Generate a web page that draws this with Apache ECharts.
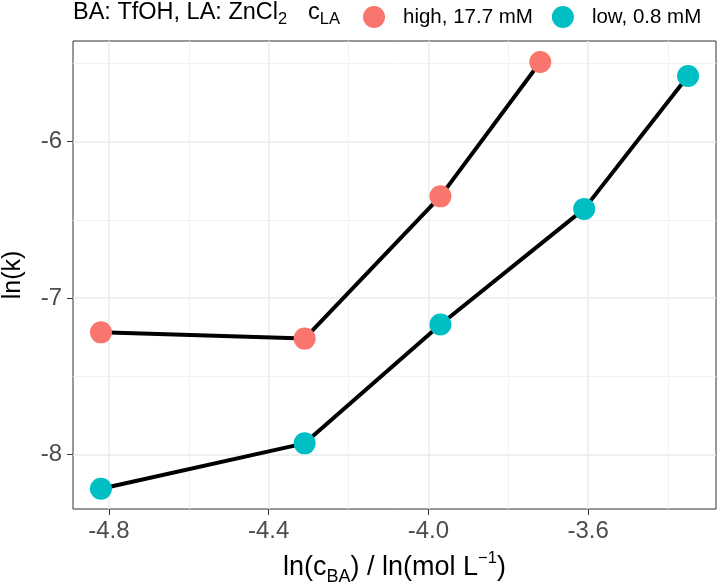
<!DOCTYPE html>
<html>
<head>
<meta charset="utf-8">
<script src="https://cdn.jsdelivr.net/npm/echarts@6/dist/echarts.min.js"></script>
<style>
html,body{margin:0;padding:0;background:#fff}
#main{width:720px;height:586px}
</style>
</head>
<body>
<div id="main"></div>
<script>
// values
var xHigh = [-4.82, -4.31, -3.97, -3.72];
var yHigh = [-7.22, -7.26, -6.35, -5.49];
var xLow = [-4.82, -4.31, -3.97, -3.61, -3.35];
var yLow = [-8.22, -7.93, -7.17, -6.43, -5.58];
var xTicks = [-4.8, -4.4, -4.0, -3.6];
var xMinor = [-4.6, -4.2, -3.8, -3.4];
var yTicks = [-8, -7, -6];
var yMinor = [-7.5, -6.5, -5.5];
var seriesNames = ['high, 17.7 mM', 'low, 0.8 mM'];
var seriesColors = ['#F8766D', '#00BFC4'];

var chart = echarts.init(document.getElementById('main'));

function zip(xs, ys) {
	var out = [];
	for (var i = 0; i < xs.length; i++) {
		out.push([xs[i], ys[i]]);
	}
	return out;
}

var xMin = -4.89, xMax = -3.28, yMin = -8.35, yMax = -5.356;

function minorAxis(min, max, vals) {
	return {
		type: 'value', min: min, max: max, gridIndex: 0,
		axisLine: {show: false},
		axisTick: {show: false, customValues: vals},
		axisLabel: {show: false, customValues: vals},
		splitLine: {show: true, lineStyle: {color: '#f2f2f2', width: 1}}
	};
}

function lineSeries(i, data) {
	return {
		type: 'line',
		name: seriesNames[i],
		data: data,
		symbol: 'circle',
		symbolSize: 22,
		itemStyle: {color: seriesColors[i]},
		lineStyle: {color: '#000', width: 4},
		emphasis: {disabled: true},
		z: 3
	};
}

var option = {
	animation: false,
	grid: {
		left: 73, right: 4, top: 41, bottom: 77,
		outerBoundsMode: 'none',
		show: true, borderColor: '#333', borderWidth: 1, backgroundColor: 'transparent'
	},
	legend: {
		data: seriesNames,
		left: 358, top: 1,
		icon: 'circle',
		itemWidth: 22, itemHeight: 22, itemGap: 19,
		selectedMode: false,
		textStyle: {fontSize: 20.5, color: '#000', padding: [0, 0, 0, 13], fontFamily: 'Liberation Sans'}
	},
	graphic: [
		{
			type: 'text', x: 73, y: 13,
			style: {
				text: 'BA: TfOH, LA: ZnCl{sub|2}',
				fontSize: 23.5, fontFamily: 'Liberation Sans', fill: '#000',
				verticalAlign: 'middle', lineHeight: 30,
				rich: {sub: {fontSize: 16.5, lineHeight: 16, verticalAlign: 'bottom', fontFamily: 'Liberation Sans'}}
			}
		},
		{
			type: 'text', x: 308, y: 13,
			style: {
				text: 'c{sub|LA}',
				fontSize: 23.5, fontFamily: 'Liberation Sans', fill: '#000',
				verticalAlign: 'middle', lineHeight: 30,
				rich: {sub: {fontSize: 16.5, lineHeight: 16, verticalAlign: 'bottom', fontFamily: 'Liberation Sans'}}
			}
		}
	],
	xAxis: [
		{
			type: 'value', min: xMin, max: xMax,
			axisLine: {show: false},
			axisTick: {show: true, length: 6, lineStyle: {color: '#333', width: 1}, customValues: xTicks},
			axisLabel: {
				customValues: xTicks, fontSize: 24, color: '#4d4d4d', margin: 10,
				fontFamily: 'Liberation Sans',
				formatter: function (v) { return v.toFixed(1); }
			},
			splitLine: {show: true, lineStyle: {color: '#ebebeb', width: 1.5}},
			name: 'ln(c{sub|BA}) / ln(mol L{sup|\u22121})',
			nameLocation: 'middle', nameGap: 41,
			nameTextStyle: {
				fontSize: 27, color: '#000', fontFamily: 'Liberation Sans', lineHeight: 36,
				rich: {
					sub: {fontSize: 18, lineHeight: 18, verticalAlign: 'bottom', fontFamily: 'Liberation Sans'},
					sup: {fontSize: 16.5, lineHeight: 17, verticalAlign: 'top', fontFamily: 'Liberation Sans'}
				}
			}
		},
		minorAxis(xMin, xMax, xMinor)
	],
	yAxis: [
		{
			type: 'value', min: yMin, max: yMax,
			axisLine: {show: false},
			axisTick: {show: true, length: 6, lineStyle: {color: '#333', width: 1}, customValues: yTicks},
			axisLabel: {
				customValues: yTicks, fontSize: 24, color: '#4d4d4d', margin: 11,
				fontFamily: 'Liberation Sans',
				formatter: function (v) { return String(v); }
			},
			splitLine: {show: true, lineStyle: {color: '#ebebeb', width: 1.5}},
			name: 'ln(k)',
			nameLocation: 'middle', nameGap: 47,
			nameTextStyle: {fontSize: 25, color: '#000', fontFamily: 'Liberation Sans'}
		},
		minorAxis(yMin, yMax, yMinor)
	],
	series: [
		lineSeries(0, zip(xHigh, yHigh)),
		lineSeries(1, zip(xLow, yLow))
	]
};

chart.setOption(option);
</script>
</body>
</html>
